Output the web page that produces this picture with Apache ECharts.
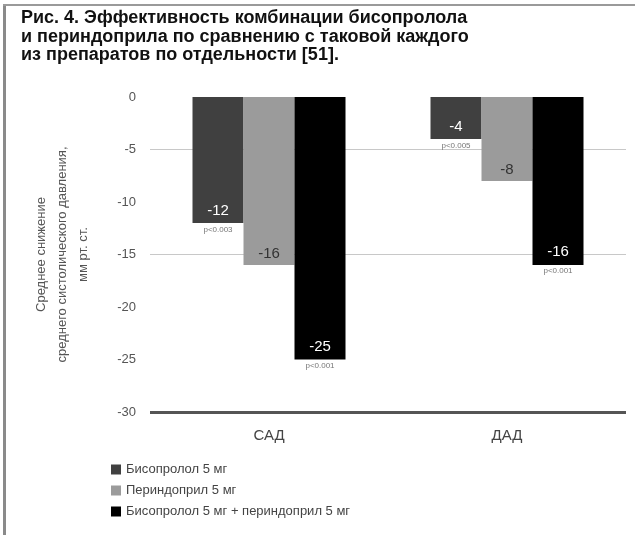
<!DOCTYPE html>
<html>
<head>
<meta charset="utf-8">
<script src="https://cdn.jsdelivr.net/npm/echarts@6/dist/echarts.min.js"></script>
<style>
  html, body { margin: 0; padding: 0; background: #fff; }
  #chart { width: 635px; height: 535px; }
</style>
</head>
<body>
<div id="chart"></div>
<script>
// Groups on the x axis
const categories = ['САД', 'ДАД'];
// Mean blood pressure reduction, mm Hg
const bisoprolol = [-12, -4];
const perindopril = [-16, -8];
const combination = [-25, -16];
// Significance notes shown beneath the bars ('' = none)
const pBisoprolol = ['p<0.003', 'p<0.005'];
const pPerindopril = ['', ''];
const pCombination = ['p<0.001', 'p<0.001'];
const seriesNames = ['Бисопролол 5 мг', 'Периндоприл 5 мг', 'Бисопролол 5 мг + периндоприл 5 мг'];
const yTicks = { min: -30, max: 0, interval: 5 };

const chart = echarts.init(document.getElementById('chart'));
const FONT = 'Liberation Sans, Arial, sans-serif';

function barSeries(name, values, notes, color, textColor, dist) {
  return {
    name: name,
    type: 'bar',
    // a bar with a note gets its label block pushed down so the note sits under the bar end
    data: values.map(function (v, i) {
      return { value: v, label: { offset: [0, notes[i] ? 22 : 0] } };
    }),
    barWidth: 51,
    barGap: '0%',
    itemStyle: { color: color },
    label: {
      show: true,
      position: 'insideBottom',
      distance: dist,
      formatter: function (p) {
        const note = notes[p.dataIndex];
        return '{v|' + p.value + '}' + (note ? '\n{p|' + note + '}' : '');
      },
      rich: {
        v: { color: textColor, fontSize: 15, fontFamily: FONT, lineHeight: 18 },
        p: { color: '#777', fontSize: 8, fontFamily: FONT, lineHeight: 20 }
      }
    }
  };
}

const option = {
  animation: false,
  backgroundColor: '#fff',
  title: {
    text: 'Рис. 4. Эффективность комбинации бисопролола\nи периндоприла по сравнению с таковой каждого\nиз препаратов по отдельности [51].',
    left: 16,
    top: 4,
    textStyle: { fontFamily: FONT, fontSize: 18, fontWeight: 'bold', color: '#111', lineHeight: 18.5 }
  },
  grid: { left: 150, right: 9, top: 97, bottom: 123 },
  legend: {
    orient: 'vertical',
    left: 106,
    top: 458,
    itemWidth: 10,
    itemHeight: 10,
    itemGap: 8,
    icon: 'rect',
    textStyle: { fontFamily: FONT, fontSize: 13, color: '#444' },
    data: seriesNames
  },
  xAxis: {
    type: 'category',
    data: categories,
    position: 'bottom',
    axisLine: { show: false },
    axisTick: { show: false },
    axisLabel: { fontFamily: FONT, fontSize: 15, color: '#444', margin: 16 }
  },
  yAxis: {
    type: 'value',
    min: yTicks.min,
    max: yTicks.max,
    interval: yTicks.interval,
    name: 'Среднее снижение\nсреднего систолического давления,\nмм рт. ст.',
    nameLocation: 'middle',
    nameGap: 56,
    nameTextStyle: { fontFamily: FONT, fontSize: 13, color: '#555', lineHeight: 21 },
    axisLine: { show: false },
    axisTick: { show: false },
    axisLabel: { fontFamily: FONT, fontSize: 13, color: '#555', margin: 14 },
    splitLine: {
      show: true,
      lineStyle: {
        // -30, -25, -20, -15, -10, -5, 0
        color: ['#555', 'transparent', 'transparent', '#c8c8c8', 'transparent', '#c8c8c8', 'transparent'],
        width: 1
      }
    }
  },
  graphic: [
    { type: 'rect', left: 3, top: 4, shape: { width: 3, height: 531 }, style: { fill: '#8a8a8a' } },
    { type: 'rect', left: 3, top: 4, shape: { width: 632, height: 2 }, style: { fill: '#9a9a9a' } }
  ],
  series: [
    barSeries(seriesNames[0], bisoprolol, pBisoprolol, '#404040', '#fff', 5),
    barSeries(seriesNames[1], perindopril, pPerindopril, '#9b9b9b', '#333', 2),
    barSeries(seriesNames[2], combination, pCombination, '#000', '#fff', 6),
    {
      // heavy baseline at the bottom of the value range
      type: 'line',
      data: [],
      markLine: {
        silent: true,
        symbol: 'none',
        label: { show: false },
        lineStyle: { color: '#555', width: 3, type: 'solid' },
        data: [{ yAxis: yTicks.min }]
      }
    }
  ]
};

chart.setOption(option);
</script>
</body>
</html>
